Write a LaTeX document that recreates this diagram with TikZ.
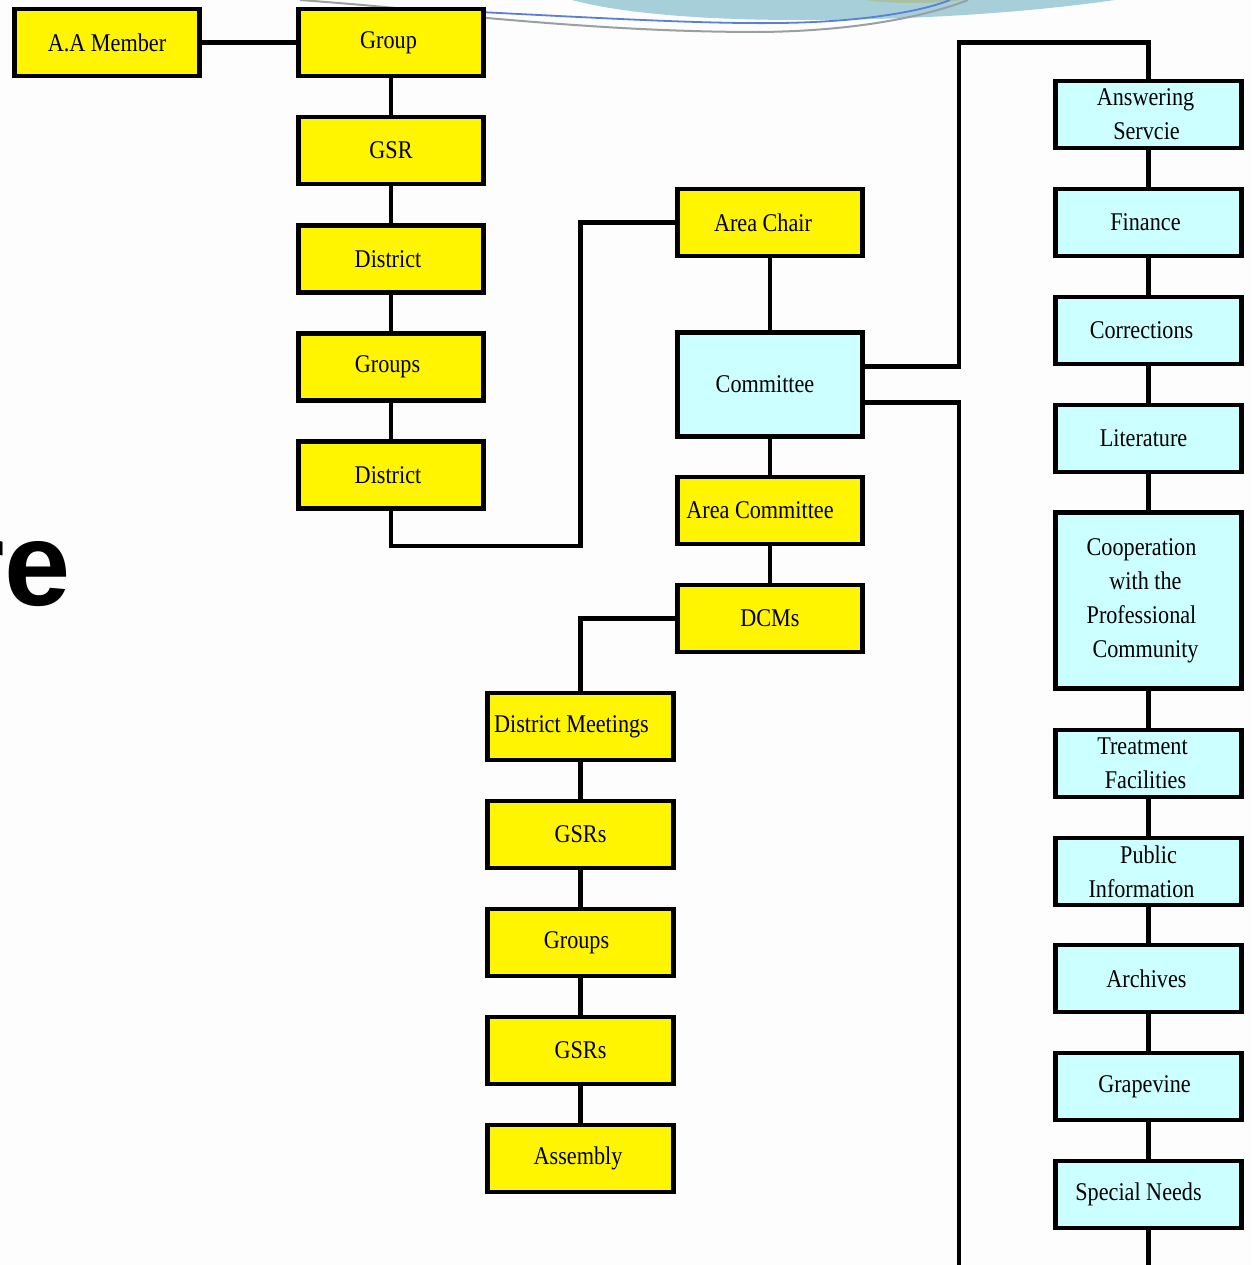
\documentclass[tikz,border=0pt]{standalone}
\usepackage{fontspec}
\setmainfont{Liberation Serif}[FakeStretch=0.87]
\newfontfamily\bigsans{Liberation Sans}
\definecolor{boxyellow}{HTML}{FFF500}
\definecolor{boxcyan}{HTML}{CCFFFF}
\definecolor{wavefill}{HTML}{A6CFD9}
\definecolor{wavegreen}{HTML}{A9C1A2}
\definecolor{waveblue}{HTML}{5A7FD6}
\definecolor{wavegray}{HTML}{9A9FA2}
\definecolor{bgpaper}{HTML}{FDFDFD}
\newcommand{\lft}[1]{\hspace*{-#1pt}}
\begin{document}
\begin{tikzpicture}[x=1pt,y=-1pt,
  box/.style={draw=black,line width=4.8pt,minimum width=185.5pt,minimum height=67pt,inner sep=2pt,align=center,font=\fontsize{25.5}{34}\selectfont,text=black},
  ybox/.style={box,fill=boxyellow},
  cbox/.style={box,fill=boxcyan},
  conn/.style={draw=black,line width=4.6pt,line cap=rect},
]
\useasboundingbox (0,0) rectangle (1251,1265);
\fill[bgpaper] (0,0) rectangle (1251,1265);
% decorative wave at the top
\fill[wavefill] (572,0) .. controls (620,13) and (700,20) .. (800,20) .. controls (950,20) and (1060,8) .. (1115,0) -- cycle;
\fill[wavegreen] (865,0) .. controls (890,4) and (935,4) .. (962,0) -- cycle;
\draw[waveblue,line width=1.8pt] (440,10) .. controls (600,18) and (700,24) .. (780,23) .. controls (860,22) and (920,12) .. (950,0);
\draw[wavegray,line width=2pt] (300,0) .. controls (380,6) and (440,12) .. (487,18) .. controls (600,28) and (680,32) .. (760,32) .. controls (860,31) and (930,15) .. (968,0);
% big partial title text
\node[anchor=base east,inner sep=0pt,font=\bigsans\bfseries\fontsize{119}{119}\selectfont] (title) at (71,605) {re};
% left column
\node[ybox] (aa) at (107,42.5) {A.A Member};
\node[ybox] (group) at (391,42.5) {\lft{5}Group};
\node[ybox] (gsr) at (391,150.5) {GSR};
\node[ybox] (dist1) at (391,259) {\lft{6}District};
\node[ybox] (groups1) at (391,367) {\lft{7}Groups};
\node[ybox] (dist2) at (391,475) {\lft{6}District};
% middle column
\node[ybox] (chair) at (770,222.5) {\lft{14}Area Chair};
\node[cbox,minimum height=104pt] (comm) at (770,384.5) {\lft{10}Committee};
\node[ybox] (acomm) at (770,510.5) {\lft{20}Area Committee};
\node[ybox] (dcms) at (770,618.5) {DCMs};
% lower column
\node[ybox] (dmeet) at (580.5,726.5) {\lft{18}District Meetings};
\node[ybox] (gsrs1) at (580.5,834.5) {GSRs};
\node[ybox] (groups2) at (580.5,942.5) {\lft{8}Groups};
\node[ybox] (gsrs2) at (580.5,1050.5) {GSRs};
\node[ybox] (asm) at (580.5,1158.5) {\lft{5}Assembly};
% right column
\node[cbox] (ans) at (1148.5,114.5) {\lft{6}Answering\\\lft{4}Servcie};
\node[cbox] (fin) at (1148.5,222.5) {\lft{6}Finance};
\node[cbox] (corr) at (1148.5,330.5) {\lft{14}Corrections};
\node[cbox] (lit) at (1148.5,438.5) {\lft{10}Literature};
\node[cbox,minimum height=176pt] (coop) at (1148.5,600.5) {\lft{14}Cooperation\\\lft{6}with the\\\lft{14}Professional\\\lft{6}Community};
\node[cbox] (treat) at (1148.5,763.5) {\lft{12}Treatment\\\lft{6}Facilities};
\node[cbox] (pub) at (1148.5,871.5) {\lft{0}Public\\\lft{14}Information};
\node[cbox] (arch) at (1148.5,978.5) {\lft{4}Archives};
\node[cbox] (grape) at (1148.5,1086.5) {\lft{8}Grapevine};
\node[cbox] (spec) at (1148.5,1194.5) {\lft{20}Special Needs};
% junction coordinates
\coordinate (j1) at (580.5,546);
\coordinate (ct) at (959,366.5);
\coordinate (top) at (1148.5,42.5);
\coordinate (cb) at (959,402.5);
\coordinate (bot1) at (959,1268);
\coordinate (bot2) at (1148.5,1268);
% connectors
\path[conn] (aa.east) -- (group.west);
\path[conn] (group.south) -- (gsr.north);
\path[conn] (gsr.south) -- (dist1.north);
\path[conn] (dist1.south) -- (groups1.north);
\path[conn] (groups1.south) -- (dist2.north);
\path[conn,line cap=butt] (dist2.south) |- (j1) |- (chair.west);
\path[conn] (chair.south) -- (comm.north);
\path[conn] (comm.south) -- (acomm.north);
\path[conn] (acomm.south) -- (dcms.north);
\path[conn,line cap=butt] (dcms.west) -| (dmeet.north);
\path[conn] (dmeet.south) -- (gsrs1.north);
\path[conn] (gsrs1.south) -- (groups2.north);
\path[conn] (groups2.south) -- (gsrs2.north);
\path[conn] (gsrs2.south) -- (asm.north);
\path[conn,line cap=butt] (comm.east |- ct) -- (ct) |- (top) -- (ans.north);
\path[conn,line cap=butt] (comm.east |- cb) -- (cb) -- (bot1);
\path[conn] (ans.south) -- (fin.north);
\path[conn] (fin.south) -- (corr.north);
\path[conn] (corr.south) -- (lit.north);
\path[conn] (lit.south) -- (coop.north);
\path[conn] (coop.south) -- (treat.north);
\path[conn] (treat.south) -- (pub.north);
\path[conn] (pub.south) -- (arch.north);
\path[conn] (arch.south) -- (grape.north);
\path[conn] (grape.south) -- (spec.north);
\path[conn,line cap=butt] (spec.south) -- (bot2);
\end{tikzpicture}
\end{document}
